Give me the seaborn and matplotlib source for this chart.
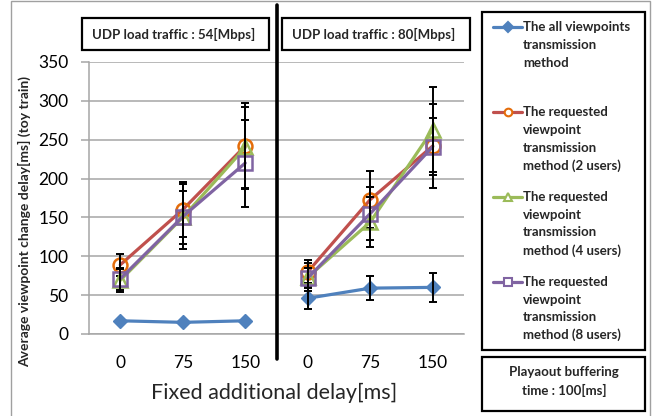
import matplotlib
matplotlib.use("Agg")
import matplotlib.pyplot as plt
from matplotlib.lines import Line2D
from matplotlib.patches import Rectangle
import seaborn as sns
import pandas as pd

# ---------------- data ----------------
delays = ["0", "75", "150"]
panels = ["UDP load traffic : 54[Mbps]", "UDP load traffic : 80[Mbps]"]
series_labels = [
    "The all viewpoints\ntransmission\nmethod",
    "The requested\nviewpoint\ntransmission\nmethod (2 users)",
    "The requested\nviewpoint\ntransmission\nmethod (4 users)",
    "The requested\nviewpoint\ntransmission\nmethod (8 users)",
]
# panel 54 Mbps
all_54 = [17, 15, 17]
all_54_err = [0, 0, 0]
req2_54 = [89, 160, 242]
req2_54_err = [14, 35, 55]
req4_54 = [69, 150, 240]
req4_54_err = [15, 34, 52]
req8_54 = [71, 151, 220]
req8_54_err = [14, 42, 56]
# panel 80 Mbps
all_80 = [46, 59, 60]
all_80_err = [14, 15, 19]
req2_80 = [80, 173, 242]
req2_80_err = [15, 37, 54]
req4_80 = [73, 144, 263]
req4_80_err = [18, 32, 55]
req8_80 = [72, 155, 241]
req8_80_err = [13, 34, 37]

yticks = [0, 50, 100, 150, 200, 250, 300, 350]
xlabel = "Fixed additional delay[ms]"
ylabel = "Average viewpoint change delay[ms] (toy train)"
note = "Playaout buffering\ntime : 100[ms]"

panel_data = [
    [(all_54, all_54_err), (req2_54, req2_54_err), (req4_54, req4_54_err), (req8_54, req8_54_err)],
    [(all_80, all_80_err), (req2_80, req2_80_err), (req4_80, req4_80_err), (req8_80, req8_80_err)],
]

# ---------------- styles ----------------
styles = [
    dict(color="#4F81BD", marker="D", ms=7.5, mfc="#4F81BD", mec="#4F81BD", mew=1.0, lms=5),
    dict(color="#C0504D", marker="o", ms=10, mfc="none", mec="#E46C0A", mew=1.8, lms=5.5),
    dict(color="#9BBB59", marker="^", ms=10.5, mfc="none", mec="#9BBB59", mew=1.8, lms=5.5),
    dict(color="#8064A2", marker="s", ms=10, mfc="none", mec="#8064A2", mew=1.8, lms=5.5),
]

sns.set_style("white")
plt.rcParams["font.family"] = ["Lato", "DejaVu Sans"]

W, H = 656, 416
fig = plt.figure(figsize=(W / 100, H / 100), dpi=100)


def fx(px):
    return px / W


def fy(py):
    return 1 - py / H


grid_c = "#A6A6A6"
x_left, x_mid, x_right = 89, 276.5, 464
y_top, y_bot = 62, 334
axes = [
    fig.add_axes([fx(x_left), fy(y_bot), (x_mid - x_left) / W, (y_bot - y_top) / H]),
    fig.add_axes([fx(x_mid), fy(y_bot), (x_right - x_mid) / W, (y_bot - y_top) / H]),
]

for pi, ax in enumerate(axes):
    for si, (vals, errs) in enumerate(panel_data[pi]):
        st = styles[si]
        df = pd.DataFrame({"delay": delays, "value": vals})
        sns.lineplot(data=df, x="delay", y="value", ax=ax, color=st["color"],
                     marker=st["marker"], markersize=st["ms"], markerfacecolor=st["mfc"],
                     markeredgecolor=st["mec"], markeredgewidth=st["mew"], linewidth=2.3,
                     sort=False, legend=False, zorder=3 + si)
        if max(errs) > 0:
            ax.errorbar(delays, vals, yerr=errs, fmt="none", ecolor="black", elinewidth=1.4,
                        capsize=2.6, capthick=1.4, zorder=3 + si)
    ax.set_xlim(-0.5, 2.5)
    ax.set_ylim(0, 350)
    ax.set_yticks(yticks)
    ax.set_xticks([0, 1, 2])
    ax.set_xticklabels(delays)
    ax.set_xticks([-0.5, 0.5, 1.5, 2.5], minor=True)
    ax.grid(axis="y", color=grid_c, linewidth=1.1)
    ax.grid(axis="x", visible=False)
    ax.set_axisbelow(True)
    ax.set_xlabel("")
    ax.set_ylabel("")
    for s in ["top", "right"]:
        ax.spines[s].set_visible(False)
    ax.spines["bottom"].set_color(grid_c)
    ax.spines["bottom"].set_linewidth(1.1)
    ax.spines["left"].set_color(grid_c)
    ax.spines["left"].set_linewidth(1.1)
    ax.tick_params(axis="x", which="major", length=0, pad=15, labelsize=12.5, colors="black")
    ax.tick_params(axis="x", which="minor", length=5.8, width=1.1, color=grid_c, direction="out")
    ax.patch.set_alpha(0)
    if pi == 0:
        ax.tick_params(axis="y", length=5.8, width=1.1, color=grid_c, direction="out",
                       pad=9, labelsize=12.5, labelcolor="black", left=True)
    else:
        ax.spines["left"].set_visible(False)
        ax.tick_params(axis="y", length=0, labelleft=False, left=False)

# outer frame
fig.add_artist(Rectangle((fx(11), fy(430)), (650 - 11) / W, (430 - 1) / H, transform=fig.transFigure,
                         fill=False, edgecolor="#A0A0A0", linewidth=1.0))
# separator line
fig.add_artist(Line2D([fx(277), fx(277)], [fy(5), fy(359)], color="black", linewidth=2.6,
                      transform=fig.transFigure))

# panel title boxes
for (x0, x1), title in zip([(82, 269), (282, 470)], panels):
    fig.add_artist(Rectangle((fx(x0), fy(50)), (x1 - x0) / W, 32 / H, transform=fig.transFigure,
                             facecolor="white", edgecolor="black", linewidth=1.6))
    fig.text(fx((x0 + x1) / 2 - 2), fy(34), title, ha="center", va="center", fontsize=9.5,
             fontweight="bold")

# legend box
fig.add_artist(Rectangle((fx(482), fy(350)), (645 - 482) / W, (350 - 12) / H, transform=fig.transFigure,
                         facecolor="white", edgecolor="black", linewidth=1.6))
entry_y0 = [27.3, 112.3, 196.9, 281.7]
for si, lab in enumerate(series_labels):
    st = styles[si]
    y0 = entry_y0[si]
    fig.add_artist(Line2D([fx(493), fx(522)], [fy(y0), fy(y0)], color=st["color"], linewidth=2.3,
                          transform=fig.transFigure))
    fig.add_artist(Line2D([fx(507.5)], [fy(y0)], marker=st["marker"], markersize=st["lms"],
                          markerfacecolor=st["mfc"] if st["mfc"] != "none" else "white",
                          markeredgecolor=st["mec"], markeredgewidth=1.5, linestyle="none",
                          transform=fig.transFigure))
    for li, line in enumerate(lab.split("\n")):
        fig.text(fx(523), fy(y0 + li * 17.8), line, ha="left", va="center", fontsize=9.5,
                 fontweight="bold")

# note box
fig.add_artist(Rectangle((fx(482), fy(411)), (645 - 482) / W, (411 - 357) / H, transform=fig.transFigure,
                         facecolor="white", edgecolor="black", linewidth=1.6))
for li, line in enumerate(note.split("\n")):
    fig.text(fx(564), fy(372 + li * 18.3), line, ha="center", va="center", fontsize=9.5,
             fontweight="bold")

# axis labels
fig.text(fx(274), fy(393), xlabel, ha="center", va="center", fontsize=15.5)
fig.text(fx(25), fy(221.5), ylabel, ha="center", va="center", rotation=90, fontsize=10,
         fontweight="bold")

fig.savefig("out.png", dpi=100)
